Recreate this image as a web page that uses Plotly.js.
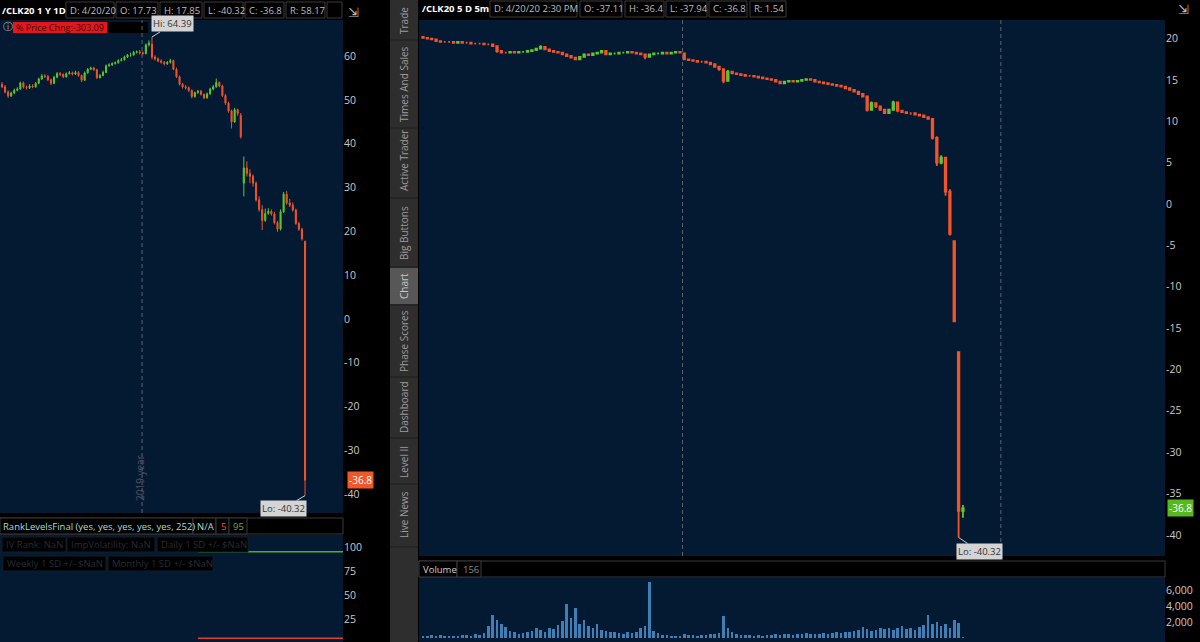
<!DOCTYPE html>
<html><head><meta charset="utf-8">
<script src="https://cdn.plot.ly/plotly-3.0.1.min.js"></script>
<style>html,body{margin:0;padding:0;background:#000;overflow:hidden}#chart{width:1200px;height:642px}</style>
</head><body><div id="chart"></div>
<script>
// ---------- DATA: left chart, /CLK20 1Y daily ----------
const dailyOpen = [53.6,53.0,51.8,50.9,51.6,52.2,52.5,53.9,52.9,52.8,
 53.2,53.0,53.8,54.8,55.5,55.4,54.6,53.8,55.2,56.0,
 55.8,55.3,56.0,56.2,55.9,56.3,55.6,54.5,56.2,57.0,
 57.3,56.9,55.1,55.6,56.3,57.8,58.0,58.3,58.5,59.0,
 59.2,59.8,60.3,60.3,60.9,61.0,60.8,60.6,62.6,62.8,
 59.8,59.4,58.9,58.6,58.3,58.6,59.0,57.0,55.3,53.6,
 53.0,52.8,52.2,50.8,51.7,52.0,51.3,50.5,51.4,52.5,
 53.0,54.0,53.2,51.0,49.3,47.5,45.0,47.8,46.5,31.0,
 34.5,33.2,32.6,31.0,27.2,25.0,22.5,24.1,24.6,24.0,
 22.0,20.5,24.5,28.5,26.5,26.0,24.9,21.8,20.5,17.73];
const dailyHigh = [54.1,53.4,52.2,51.9,52.6,52.9,54.2,54.2,53.3,53.6,
 53.6,54.1,55.1,55.9,55.9,55.7,54.9,55.5,56.4,56.4,
 56.1,56.3,56.6,56.5,56.7,56.6,55.8,56.5,57.3,57.6,
 57.6,57.1,55.9,56.7,58.1,58.4,58.6,58.8,59.3,59.6,
 60.1,60.5,60.8,61.2,61.3,61.4,61.1,62.9,63.6,64.39,
 60.2,59.7,59.3,58.9,58.9,59.4,59.2,57.4,55.6,53.9,
 53.4,53.1,52.4,51.9,52.3,52.3,51.5,51.7,52.8,53.4,
 54.9,54.2,53.5,51.4,49.6,47.8,48.2,48.0,47.0,37.1,
 36.0,34.2,33.0,31.4,28.0,26.0,25.2,25.3,25.0,24.5,
 22.4,25.0,29.0,29.2,27.4,26.6,25.2,22.2,20.8,17.85];
const dailyLow = [52.7,51.5,50.5,50.7,51.3,52.0,52.3,52.6,52.4,52.5,
 52.7,52.8,53.6,54.6,55.0,54.3,53.4,53.6,55.0,55.5,
 55.0,55.1,55.8,55.6,55.7,55.3,54.1,54.3,56.0,56.8,
 56.6,54.8,54.9,55.4,56.1,57.6,57.8,58.1,58.3,58.8,
 59.0,59.6,59.9,60.1,60.6,60.4,60.2,60.4,62.2,59.3,
 59.0,58.6,58.3,57.9,58.0,58.3,56.8,55.0,53.3,52.6,
 52.4,51.8,50.4,50.5,51.4,51.0,50.2,50.3,51.2,52.2,
 52.8,52.9,50.7,48.9,47.1,43.5,44.8,46.4,41.2,28.0,
 32.5,31.0,30.2,26.8,24.5,20.3,22.2,23.8,23.6,21.6,
 19.9,20.2,24.2,26.1,25.6,24.5,21.5,20.1,17.9,-40.32];
const dailyClose = [53.0,51.8,50.9,51.6,52.2,52.5,53.9,52.9,52.8,53.2,
 53.0,53.8,54.8,55.5,55.4,54.6,53.8,55.2,56.0,55.8,
 55.3,56.0,56.2,55.9,56.3,55.6,54.5,56.2,57.0,57.3,
 56.9,55.1,55.6,56.3,57.8,58.0,58.3,58.5,59.0,59.2,
 59.8,60.3,60.3,60.9,61.0,60.8,60.6,62.6,63.0,59.8,
 59.4,58.9,58.6,58.3,58.6,59.0,57.0,55.3,53.6,53.0,
 52.8,52.2,50.8,51.7,52.0,51.3,50.5,51.4,52.5,53.0,
 54.0,53.2,51.0,49.3,47.5,45.0,47.8,46.9,41.6,34.5,
 33.2,32.6,31.0,27.2,25.0,22.5,24.1,24.6,24.0,22.0,
 20.5,24.5,28.5,26.5,26.0,24.9,21.8,20.5,18.3,-36.8];
const yearBoundaryBar = 45.75;
const dailyHiBar = 49, dailyHi = 64.39;
const dailyLoBar = 99, dailyLo = -40.32;
const lastPrice = -36.8;

// RankLevelsFinal study
const rankUpper = 95, rankLower = 5, rankStartBar = 64;

// ---------- DATA: right chart, /CLK20 5D 5m ----------
const intraOpen = [20.2,20.1,20.0,19.9,19.7,19.6,19.6,19.6,19.5,19.6,
 19.5,19.5,19.4,19.4,19.4,19.3,19.3,19.1,18.5,18.3,
 18.3,18.4,18.3,18.4,18.4,18.5,18.6,18.8,19.0,18.7,
 18.5,18.4,18.3,18.1,17.9,17.7,17.5,17.8,18.1,18.0,
 18.2,18.3,18.5,18.1,18.2,18.2,18.3,18.3,18.4,18.3,
 18.2,18.1,17.8,18.1,18.2,18.2,18.3,18.2,18.3,18.4,
 18.2,17.5,17.4,17.3,17.2,17.2,17.1,16.9,16.6,16.3,
 14.9,16.0,15.8,15.7,15.6,15.5,15.5,15.4,15.3,15.2,
 15.1,15.0,14.8,14.6,14.8,14.9,14.8,14.9,15.0,15.1,
 15.0,14.8,14.7,14.6,14.5,14.4,14.3,14.2,14.0,13.8,
 13.6,13.3,13.0,11.4,12.2,11.8,11.4,11.0,11.4,12.3,
 11.3,11.1,11.0,11.0,10.8,10.7,10.5,10.3,8.0,5.0,
 5.6,1.5,-4.5,-17.9,-37.11];
const intraHigh = [20.3,20.2,20.1,20.0,19.8,19.7,19.7,19.7,19.7,19.7,
 19.6,19.6,19.5,19.5,19.5,19.4,19.4,19.2,18.6,18.4,
 18.5,18.5,18.5,18.5,18.6,18.7,18.9,19.2,19.1,18.8,
 18.6,18.5,18.4,18.2,18.0,17.8,17.9,18.2,18.2,18.3,
 18.4,18.6,18.6,18.3,18.3,18.4,18.4,18.5,18.5,18.4,
 18.3,18.2,18.2,18.3,18.3,18.4,18.4,18.4,18.5,18.5,
 18.3,17.6,17.5,17.4,17.3,17.3,17.2,17.0,16.7,16.4,
 16.2,16.1,15.9,15.8,15.7,15.6,15.6,15.5,15.4,15.3,
 15.2,15.1,14.9,14.9,15.0,15.0,15.0,15.1,15.2,15.2,
 15.1,14.9,14.8,14.7,14.6,14.5,14.4,14.3,14.1,13.9,
 13.7,13.4,13.1,12.4,12.3,11.9,11.5,11.5,12.5,12.4,
 11.4,11.2,11.1,11.1,10.9,10.8,10.6,10.4,8.2,5.9,
 5.7,1.8,-4.4,-17.8,-36.4];
const intraLow = [20.0,19.9,19.8,19.6,19.5,19.5,19.5,19.4,19.4,19.4,
 19.4,19.3,19.3,19.3,19.2,19.2,19.0,18.3,18.2,18.2,
 18.2,18.2,18.2,18.3,18.3,18.4,18.5,18.7,18.6,18.4,
 18.3,18.2,18.0,17.8,17.6,17.4,17.4,17.7,17.9,17.9,
 18.1,18.2,18.0,18.0,18.1,18.1,18.2,18.2,18.2,18.1,
 18.0,17.5,17.7,18.0,18.1,18.1,18.1,18.1,18.2,18.2,
 17.4,17.3,17.2,17.1,17.1,17.0,16.8,16.5,16.1,14.6,
 14.8,15.7,15.6,15.5,15.4,15.4,15.3,15.2,15.1,15.0,
 14.9,14.7,14.5,14.5,14.7,14.7,14.7,14.8,14.9,14.9,
 14.7,14.6,14.5,14.4,14.3,14.2,14.1,13.9,13.7,13.5,
 13.2,12.9,11.2,11.3,11.6,11.3,10.9,10.9,11.3,11.1,
 11.0,10.9,10.8,10.7,10.6,10.4,10.2,7.8,4.6,4.8,
 1.0,-3.8,-14.3,-40.32,-37.94];
const intraClose = [20.1,20.0,19.9,19.7,19.6,19.6,19.6,19.5,19.6,19.5,
 19.5,19.4,19.4,19.4,19.3,19.3,19.1,18.5,18.3,18.3,
 18.4,18.3,18.4,18.4,18.5,18.6,18.8,19.0,18.7,18.5,
 18.4,18.3,18.1,17.9,17.7,17.5,17.8,18.1,18.0,18.2,
 18.3,18.5,18.1,18.2,18.2,18.3,18.3,18.4,18.3,18.2,
 18.1,17.8,18.1,18.2,18.2,18.3,18.2,18.3,18.4,18.3,
 17.5,17.4,17.3,17.2,17.2,17.1,16.9,16.6,16.3,14.9,
 16.0,15.8,15.7,15.6,15.5,15.5,15.4,15.3,15.2,15.1,
 15.0,14.8,14.6,14.8,14.9,14.8,14.9,15.0,15.1,15.0,
 14.8,14.7,14.6,14.5,14.4,14.3,14.2,14.0,13.8,13.6,
 13.3,13.0,11.4,12.2,11.8,11.4,11.0,11.4,12.3,11.3,
 11.1,11.0,11.0,10.8,10.7,10.5,10.3,8.0,5.0,5.6,
 1.5,-3.6,-14.2,-37.1,-36.8];
const intraVolume = [300,250,400,300,350,250,300,200,300,350,
 400,300,500,400,600,1500,2900,2200,1800,1400,
 900,700,500,600,800,900,1200,1000,800,1300,
 1100,1600,2100,4200,2500,3800,1800,2300,1500,1200,
 1800,1000,900,700,800,600,500,700,600,800,
 1200,1500,7000,900,600,400,350,300,250,300,
 500,350,400,300,350,400,500,450,600,2800,
 1200,700,500,400,350,400,300,350,300,400,
 350,450,400,500,450,400,500,450,600,500,
 550,500,600,500,650,700,600,800,700,900,
 1000,1400,1100,900,1000,1200,1100,1300,1000,1200,
 1500,1100,1300,1000,1400,1600,2900,1800,2000,1500,
 1700,1200,2200,1900,156];
const sessionBreaks = [59.6, 132.7];
const intraLoBar = 123, intraLo = -40.32;

// ---------- tick labels ----------
const leftPriceTicks = [60,50,40,30,20,10,0,-10,-20,-30,-40];
const rightPriceTicks = [20,15,10,5,0,-5,-10,-15,-20,-25,-30,-35,-40];
const rankTicks = [25,50,75,100];
const volumeTicks = [0,2000,4000,6000];
const tabNames = ['Trade','Times And Sales','Active Trader','Big Buttons','Chart','Phase Scores','Dashboard','Level II','Live News'];

// ---------- build ----------
const W = 1200, H = 642;
const P = px => px / W, Q = py => 1 - py / H;
const UP = '#5cc92a', DN = '#f4532a';
const BG = '#041a33';
const FF = 'Open Sans';
const tickFont = {family:FF, size:10.5, color:'#c9c9c9'};
const idx = a => a.map((_, i) => i);

const leftRange = [-0.65, 111.4];
const rightRange = [-0.92, 170.4];

const traces = [
  {type:'candlestick', x: idx(dailyClose), open: dailyOpen, high: dailyHigh, low: dailyLow, close: dailyClose,
   xaxis:'x', yaxis:'y', hoverinfo:'skip', whiskerwidth:0,
   increasing:{line:{color:UP,width:1}, fillcolor:UP}, decreasing:{line:{color:DN,width:1}, fillcolor:DN}},
  {type:'scatter', mode:'lines', x:[rankStartBar, leftRange[1]], y:[rankUpper, rankUpper], xaxis:'x2', yaxis:'y2',
   line:{color:'#4caf27', width:1.5}, hoverinfo:'skip'},
  {type:'scatter', mode:'lines', x:[rankStartBar, leftRange[1]], y:[rankLower, rankLower], xaxis:'x2', yaxis:'y2',
   line:{color:'#e0402a', width:1.5}, hoverinfo:'skip'},
  {type:'candlestick', x: idx(intraClose), open: intraOpen, high: intraHigh, low: intraLow, close: intraClose,
   xaxis:'x3', yaxis:'y3', hoverinfo:'skip', whiskerwidth:0,
   increasing:{line:{color:UP,width:1.8}, fillcolor:UP}, decreasing:{line:{color:DN,width:1.8}, fillcolor:DN}},
  {type:'bar', x: idx(intraVolume), y: intraVolume, xaxis:'x4', yaxis:'y4', width:0.6,
   marker:{color:'#3f7fb6', line:{width:0}}, hoverinfo:'skip'}
];

const baseX = {showgrid:false, zeroline:false, showticklabels:false, showline:false, ticks:'', fixedrange:true, rangeslider:{visible:false}};
const baseY = {showgrid:false, zeroline:false, showline:false, ticks:'', side:'right', tickfont:tickFont, fixedrange:true};

const shapes = [];
const annotations = [];
function rect(x0,y0,x1,y1,fill,line){
  shapes.push({type:'rect', xref:'paper', yref:'paper', x0:P(x0), x1:P(x1), y0:Q(y1), y1:Q(y0),
    fillcolor: fill || 'rgba(0,0,0,0)', line:{color: line || 'rgba(0,0,0,0)', width: line ? 1 : 0}, layer:'above'});
}
function hline(x0,x1,y,color){
  shapes.push({type:'line', xref:'paper', yref:'paper', x0:P(x0), x1:P(x1), y0:Q(y), y1:Q(y), line:{color, width:1}, layer:'above'});
}
function label(x,y,text,opts){
  annotations.push(Object.assign({xref:'paper', yref:'paper', x:P(x), y:Q(y), text, showarrow:false,
    xanchor:'left', yanchor:'middle', font:{family:FF, size:9.5, color:'#bdbdbd'}}, opts || {}));
}

// headers
const boxLine = '#3b3b3b';
label(0, 10, '<b>/CLK20 1 Y 1D</b>', {font:{family:FF, size:9.5, color:'#ffffff'}});
[[66,114,'D: 4/20/20'],[116,158,'O: 17.73'],[160,202,'H: 17.85'],[204,243,'L: -40.32'],[245,284,'C: -36.8'],[286,325,'R: 58.17'],[327,342,'']]
 .forEach(b => { rect(b[0],2,b[1],18,'#000',boxLine); if (b[2]) label(b[0]+1.5,10,b[2]); });
label(420, 9, '<b>/CLK20 5 D 5m</b>', {font:{family:FF, size:9.5, color:'#ffffff'}});
[[490,577,'D: 4/20/20 2:30 PM'],[580,622,'O: -37.11'],[625,664,'H: -36.4'],[666,707,'L: -37.94'],[709,747,'C: -36.8'],[750,786,'R: 1.54']]
 .forEach(b => { rect(b[0],1,b[1],17,'#000',boxLine); label(b[0]+1.5,9,b[2]); });
label(346, 12, '⇲', {font:{size:13, color:'#bdbdbd'}});
label(1176, 9, '⇲', {font:{size:13, color:'#bdbdbd'}});

// left chart overlays
label(1, 27, 'ⓘ', {font:{family:'DejaVu Sans', size:10, color:'#bbbbbb'}});
rect(13,22,107,33,'#e5171c');
label(14, 27.5, '% Price Chng:-303.09', {font:{family:FF, size:9, color:'#3a0505'}});
rect(107,22,148,33,'#000');
label(140, 478, '2019 year', {textangle:-90, xanchor:'center', font:{family:FF, size:10, color:'#4d5560'}});

// lower-left panel header and boxes
rect(0,518,343,534,'#000',boxLine);
rect(0,518,193,534,'#000',boxLine);
rect(193,518,216,534,'#000',boxLine);
rect(216,518,229,534,'#000',boxLine);
rect(229,518,247,534,'#000',boxLine);
label(1, 526, 'RankLevelsFinal (yes, yes, yes, yes, yes, 252)', {font:{family:FF, size:9.5, color:'#a6dcd6'}});
label(195.5, 526, 'N/A', {font:{family:FF, size:9.5, color:'#a6dcd6'}});
label(219, 526, '5', {font:{family:FF, size:9.5, color:'#e2532b'}});
label(231, 526, '95', {font:{family:FF, size:9.5, color:'#5db82c'}});
[[2,66,537,552,'IV Rank: NaN'],[67,155,537,552,'ImpVolatility: NaN'],[157,248,537,552,'Daily 1 SD +/- $NaN'],
 [3,106,556,571,'Weekly 1 SD +/- $NaN'],[108,213,556,571,'Monthly 1 SD +/- $NaN']]
 .forEach(b => { rect(b[0],b[2],b[1],b[3],'#000','#101c2a'); label(b[0]+2,(b[2]+b[3])/2,b[4],{font:{family:FF, size:9.5, color:'#262c33'}}); });

// volume header
rect(419,561,1165,577,'#000',boxLine);
rect(419,561,457,577,'#000',boxLine);
rect(457,561,481,577,'#000',boxLine);
label(421, 569, 'Volume', {font:{family:FF, size:9.5, color:'#cfcfcf'}});
label(461, 569, '156', {font:{family:FF, size:9.5, color:'#8a8a8a'}});

// tab strip
rect(390,0,418,642,'#2e2e2e');
rect(390,268,418,304,'#575757');
const tabCenters = [21,84,161,233,286,341,407,462,515];
[40,128,198,267,305,377,438,484,547].forEach(y => hline(390,418,y,'#1c1c1c'));
tabNames.forEach((t,i) => label(404, tabCenters[i], t, {textangle:-90, xanchor:'center',
  font:{family:FF, size:10, color: t === 'Chart' ? '#c8c8c8' : '#9c9c9c'}}));

// session / year separators
shapes.push({type:'line', xref:'x', yref:'y domain', x0:yearBoundaryBar, x1:yearBoundaryBar, y0:0, y1:1,
  line:{color:'#5a6571', width:1, dash:'4px,3px'}, layer:'above'});
sessionBreaks.forEach(b => shapes.push({type:'line', xref:'x3', yref:'y3 domain', x0:b, x1:b, y0:0, y1:1,
  line:{color:'#5a6571', width:1, dash:'4px,3px'}, layer:'above'}));

// hi / lo callouts
const callout = {showarrow:true, arrowhead:0, arrowwidth:1, arrowcolor:'#cfcfcf', bgcolor:'#d4d4d4', borderpad:1,
  font:{family:FF, size:9.5, color:'#333333'}};
annotations.push(Object.assign({}, callout, {xref:'x', yref:'y', x:dailyHiBar, y:dailyHi, ax:21, ay:-13, text:'Hi: ' + dailyHi}));
annotations.push(Object.assign({}, callout, {xref:'x', yref:'y', x:dailyLoBar, y:dailyLo, ax:-22, ay:13, text:'Lo: ' + dailyLo}));
annotations.push(Object.assign({}, callout, {xref:'x3', yref:'y3', x:intraLoBar, y:intraLo, ax:21, ay:14, text:'Lo: ' + intraLo}));

// last price bubbles
annotations.push({xref:'paper', yref:'y', x:P(347), y:lastPrice, xanchor:'left', yanchor:'middle', showarrow:false,
  text:String(lastPrice), bgcolor:'#f0582a', borderpad:1, font:{family:FF, size:10, color:'#ffffff'}});
annotations.push({xref:'paper', yref:'y3', x:P(1167), y:lastPrice, xanchor:'left', yanchor:'middle', showarrow:false,
  text:String(lastPrice), bgcolor:'#57b81f', borderpad:1, font:{family:FF, size:10, color:'#ffffff'}});

const layout = {
  width:W, height:H, margin:{l:0,r:0,t:0,b:0,pad:0},
  paper_bgcolor:'#000', plot_bgcolor:BG, showlegend:false, boxgap:0.5, boxmode:'overlay',
  font:{family:FF, size:11, color:'#c9c9c9'},
  xaxis: Object.assign({}, baseX, {domain:[0, P(343)], range:leftRange, anchor:'y'}),
  yaxis: Object.assign({}, baseY, {domain:[Q(513), Q(20)], range:[-44.29, 68.26], anchor:'x',
    tickvals:leftPriceTicks, ticktext:leftPriceTicks.map(String)}),
  xaxis2: Object.assign({}, baseX, {domain:[0, P(343)], range:leftRange, anchor:'y2'}),
  yaxis2: Object.assign({}, baseY, {domain:[0, Q(535)], range:[1, 112.5], anchor:'x2',
    tickvals:rankTicks, ticktext:rankTicks.map(String)}),
  xaxis3: Object.assign({}, baseX, {domain:[P(419), P(1165)], range:rightRange, anchor:'y3'}),
  yaxis3: Object.assign({}, baseY, {domain:[Q(556), Q(20)], range:[-42.56, 22.25], anchor:'x3',
    tickvals:rightPriceTicks, ticktext:rightPriceTicks.map(String)}),
  xaxis4: Object.assign({}, baseX, {domain:[P(419), P(1165)], range:rightRange, anchor:'y4'}),
  yaxis4: Object.assign({}, baseY, {domain:[0, Q(578)], range:[-500, 7500], anchor:'x4',
    tickvals:volumeTicks, ticktext:volumeTicks.map(v => v.toLocaleString('en-US'))}),
  shapes, annotations, bargap:0
};

Plotly.newPlot('chart', traces, layout, {staticPlot:true, displayModeBar:false});
</script>
</body></html>
